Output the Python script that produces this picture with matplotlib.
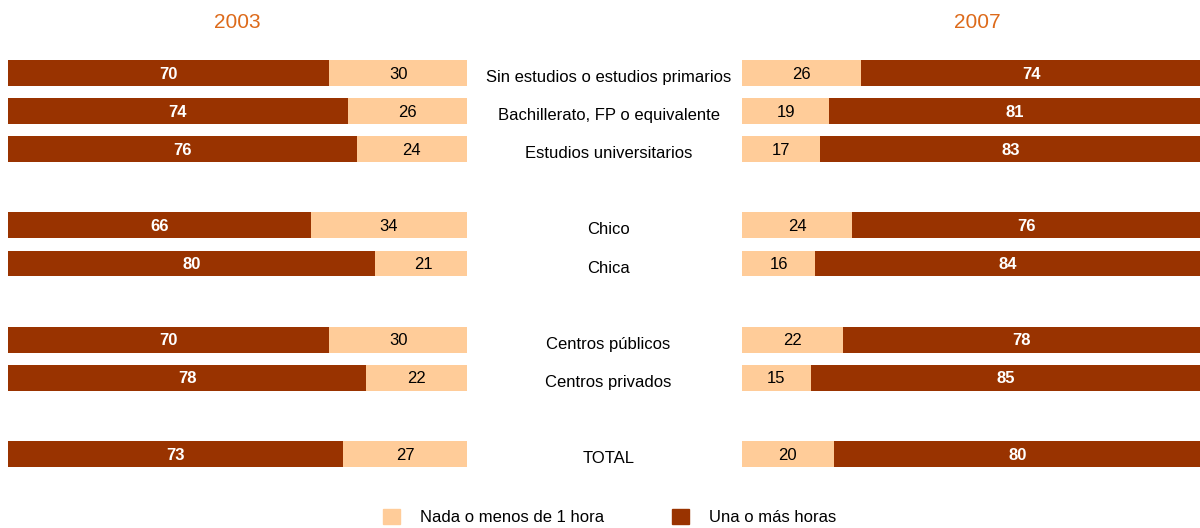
import numpy as np
import matplotlib.pyplot as plt
from matplotlib.patches import Patch

plt.rcParams['font.family'] = ['Liberation Sans', 'DejaVu Sans']

#%%----- data -----------------------------------------------------------------
categorias = ['Sin estudios o estudios primarios', 'Bachillerato, FP o equivalente',
              'Estudios universitarios', 'Chico', 'Chica',
              'Centros públicos', 'Centros privados', 'TOTAL']
filas = [0, 1, 2, 4, 5, 7, 8, 10]

una_2003 = [70, 74, 76, 66, 80, 70, 78, 73]
nada_2003 = [30, 26, 24, 34, 21, 30, 22, 27]
nada_2007 = [26, 19, 17, 24, 16, 22, 15, 20]
una_2007 = [74, 81, 83, 76, 84, 78, 85, 80]

oscuro = '#993300'
claro = '#FFCC99'
naranja = '#DD6A1A'

#%%----- graphs ---------------------------------------------------------------
fig = plt.figure(figsize=(12, 5.28), dpi=100)
bottom, top = 0.0968, 0.905
ax1 = fig.add_axes([8/1200, bottom, 459/1200, top - bottom])
ax2 = fig.add_axes([742/1200, bottom, 459/1200, top - bottom])
axm = fig.add_axes([467/1200, bottom, 275/1200, top - bottom])

h = 0.68
ax1.barh(filas, una_2003, height=h, color=oscuro)
ax1.barh(filas, nada_2003, left=una_2003, height=h, color=claro)
ax2.barh(filas, nada_2007, height=h, color=claro)
ax2.barh(filas, una_2007, left=nada_2007, height=h, color=oscuro)

for y, a, b in zip(filas, una_2003, nada_2003):
    ax1.text(a / 2, y + 0.03, str(a), ha='center', va='center', color='white',
             fontsize=12, weight='bold')
    ax1.text(a + b / 2, y + 0.03, str(b), ha='center', va='center', color='k', fontsize=12)
for y, a, b in zip(filas, nada_2007, una_2007):
    ax2.text(a / 2, y + 0.03, str(a), ha='center', va='center', color='k', fontsize=12)
    ax2.text(a + b / 2, y + 0.03, str(b), ha='center', va='center', color='white',
             fontsize=12, weight='bold')

for y, c in zip(filas, categorias):
    axm.text(0.515, y + 0.12, c, ha='center', va='center', fontsize=12,
             transform=axm.get_yaxis_transform())

for ax in (ax1, ax2, axm):
    ax.set_xlim(0, 100)
    ax.set_ylim(10.6, -0.6)
    ax.axis('off')
axm.set_xlim(0, 1)

fig.text(237/1200, 1 - 23/528, '2003', ha='center', va='center', color=naranja,
         fontsize=15)
fig.text(977/1200, 1 - 23/528, '2007', ha='center', va='center', color=naranja,
         fontsize=15)

handles = [Patch(color=claro, label='Nada o menos de 1 hora'),
           Patch(color=oscuro, label='Una o más horas')]
fig.legend(handles=handles, loc='center', bbox_to_anchor=(0.508, 1 - 517/528),
           ncol=2, frameon=False, fontsize=12, handlelength=1.0, handleheight=1.0,
           handletextpad=1.2, columnspacing=4.1)

plt.savefig('out.png', dpi=100)
